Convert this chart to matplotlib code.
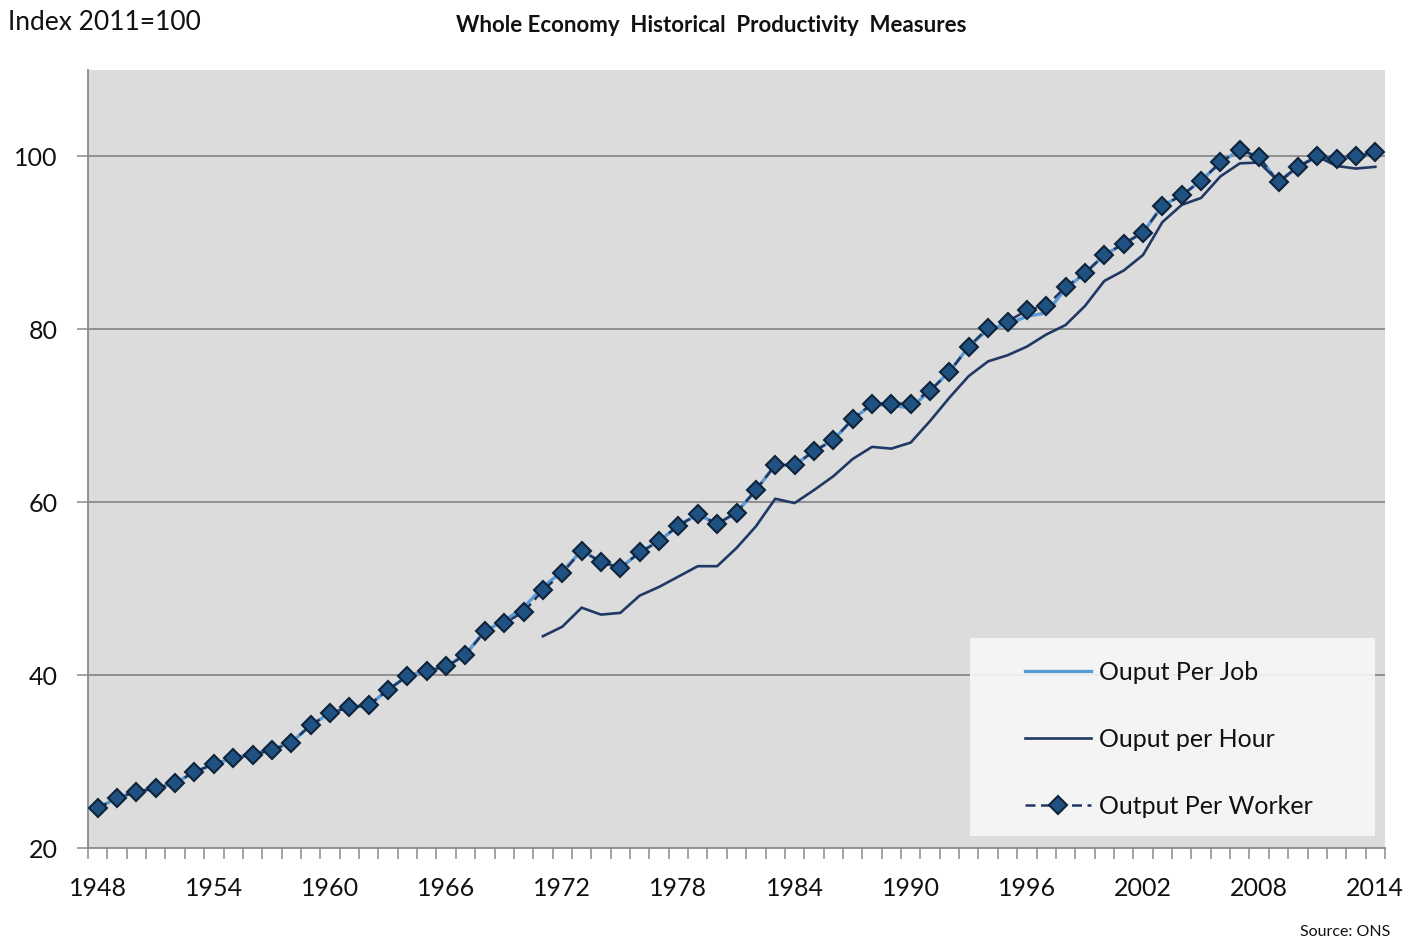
import numpy as np
import matplotlib
matplotlib.use("Agg")
import matplotlib.pyplot as plt
from matplotlib.patches import Rectangle

plt.rcParams['font.family'] = ['Lato', 'DejaVu Sans']

# data (index 2011=100)
years = list(range(1948, 2015))
tick_years = [1948, 1954, 1960, 1966, 1972, 1978, 1984, 1990, 1996, 2002, 2008, 2014]

per_worker = [24.6, 25.8, 26.5, 26.9, 27.5, 28.8, 29.7, 30.4, 30.8, 31.3,
              32.2, 34.2, 35.6, 36.3, 36.5, 38.3, 39.9, 40.5, 41.0, 42.3,
              45.1, 46.0, 47.3, 49.8, 51.8, 54.4, 53.1, 52.4, 54.2, 55.5,
              57.3, 58.6, 57.5, 58.8, 61.4, 64.3, 64.3, 65.9, 67.2, 69.6,
              71.4, 71.4, 71.4, 72.9, 75.1, 78.0, 80.2, 80.9, 82.2, 82.7,
              84.9, 86.5, 88.6, 89.9, 91.2, 94.3, 95.5, 97.2, 99.3, 100.8,
              99.9, 97.0, 98.8, 100.0, 99.7, 100.0, 100.5]

per_job = [24.6, 25.8, 26.5, 26.9, 27.5, 28.8, 29.7, 30.4, 30.9, 31.4,
           32.2, 34.2, 35.6, 36.3, 36.5, 38.3, 39.9, 40.5, 41.0, 42.4,
           45.1, 46.3, 47.8, 50.2, 52.0, 54.4, 53.1, 52.4, 54.2, 55.5,
           57.3, 58.6, 57.5, 58.8, 61.4, 64.3, 64.3, 65.9, 67.2, 69.6,
           71.3, 71.2, 70.9, 72.9, 75.1, 78.0, 80.0, 80.6, 81.5, 81.9,
           84.7, 86.5, 88.6, 89.9, 91.2, 94.3, 95.5, 97.2, 99.3, 100.8,
           99.9, 97.0, 98.8, 100.0, 99.7, 100.0, 100.5]

nan = np.nan
per_hour = [nan] * 23 + [
    44.5, 45.6, 47.8, 47.0, 47.2, 49.2, 50.2, 51.4, 52.6, 52.6,
    54.7, 57.2, 60.4, 59.9, 61.4, 63.0, 65.0, 66.4, 66.2, 66.9,
    69.4, 72.1, 74.6, 76.3, 77.0, 78.0, 79.4, 80.5, 82.7, 85.6,
    86.8, 88.6, 92.4, 94.4, 95.2, 97.7, 99.2, 99.3, 97.1, 98.8,
    100.0, 98.9, 98.6, 98.8]

fig = plt.figure(figsize=(14.22, 9.4), dpi=100)
ax = fig.add_axes([88 / 1422, 1 - 848 / 940, 1297 / 1422, 778 / 940])
ax.set_facecolor('#dcdcdc')

grid_col = '#8a8a8a'
ax.set_xlim(1947.5, 2014.5)
ax.set_ylim(20, 110)
ax.set_yticks([20, 40, 60, 80, 100])
for v in [40, 60, 80, 100]:
    ax.axhline(v, color=grid_col, lw=1.3, zorder=1)

# legend background (slightly see-through, grid shows through)
ax.add_patch(Rectangle((0.680, 0.0154), 0.3123, 0.2545, transform=ax.transAxes,
                       fc='#f7f7f7', ec='none', alpha=0.9, zorder=1.5))

ax.plot(years, per_job, color='#5b9bd5', lw=2.4, zorder=3, label='Ouput Per Job')
ax.plot(years, per_hour, color='#1f3864', lw=1.9, zorder=3, label='Ouput per Hour')
ax.plot(years, per_worker, color='#1f3864', lw=1.8, ls=(0, (4, 2.2)), marker='D',
        markersize=8.8, markerfacecolor='#1f5282', markeredgecolor='#0e233a',
        markeredgewidth=1.5, zorder=4, label='Output Per Worker')

for s in ['top', 'right']:
    ax.spines[s].set_visible(False)
for s in ['left', 'bottom']:
    ax.spines[s].set_color(grid_col)
    ax.spines[s].set_linewidth(1.3)

ax.set_xticks(tick_years)
ax.set_xticks(np.arange(1947.5, 2015, 1.0), minor=True)
ax.tick_params(axis='x', which='major', length=0, pad=21, labelsize=18, labelcolor='#111111')
ax.tick_params(axis='x', which='minor', length=8, width=1.1, color=grid_col, direction='out')
ax.tick_params(axis='y', length=8, width=1.1, color=grid_col, pad=14, labelsize=18,
               labelcolor='#111111')

leg = ax.legend(loc='upper left', bbox_to_anchor=(0.7224, 0.241), frameon=False,
                fontsize=18, handlelength=2.65, handletextpad=0.3, labelspacing=1.76,
                borderpad=0, borderaxespad=0)
for t in leg.get_texts():
    t.set_color('#111111')

fig.text(8 / 1422, 1 - 23 / 940, 'Index 2011=100', ha='left', va='center', fontsize=19,
         color='#111111')
fig.text(0.5, 1 - 25 / 940, 'Whole Economy  Historical  Productivity  Measures',
         ha='center', va='center', fontsize=16, fontweight='bold', color='#111111')
fig.text(1390 / 1422, 1 - 932 / 940, 'Source: ONS', ha='right', va='center', fontsize=11.5,
         color='#111111')

fig.savefig('out.png', dpi=100, facecolor='white')
